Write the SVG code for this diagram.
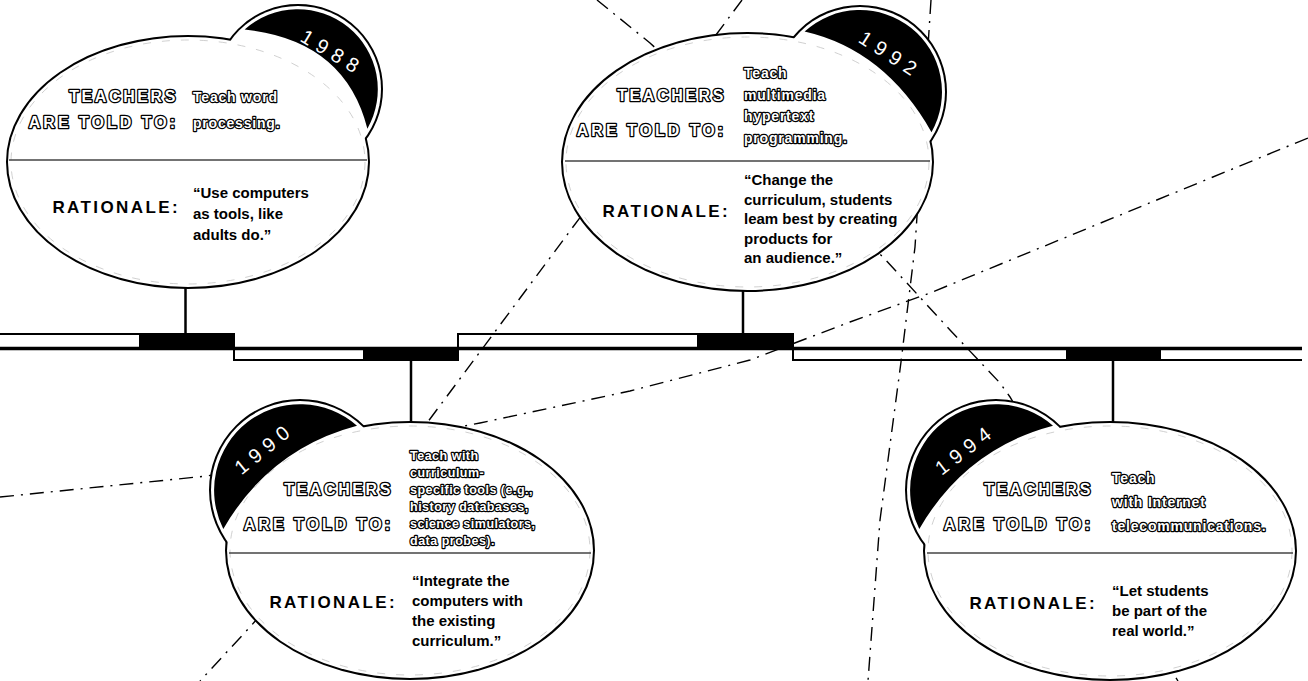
<svg xmlns="http://www.w3.org/2000/svg" width="1308" height="681" viewBox="0 0 1308 681">
<style>
.ol{fill:#fff;stroke:#000;stroke-width:4}
.wf{fill:#fff}
.cr{fill:#000}
.faint{fill:none;stroke:#c4c4c4;stroke-width:0.8;stroke-dasharray:8 11}
.dv{stroke:#444;stroke-width:1.5}
.ray{fill:none;stroke:#000;stroke-width:1.4;stroke-dasharray:14 7 2 7}
.stem{stroke:#000;stroke-width:2.5}
.tl{fill:none;stroke:#000;stroke-width:2}
.hd{font-family:"Liberation Sans",Arial,sans-serif;font-weight:bold;font-size:16px;letter-spacing:2.6px;fill:#fff;stroke:#000;stroke-width:2.6;stroke-linejoin:round;paint-order:stroke;text-anchor:end}
.hd2{letter-spacing:3px}
.ins{font-family:"Liberation Sans",Arial,sans-serif;font-weight:bold;font-size:14px;letter-spacing:0.8px;fill:#fff;stroke:#000;stroke-width:2.4;stroke-linejoin:round;paint-order:stroke}
.sm{font-size:12.5px;letter-spacing:0.5px}
.rat{font-family:"Liberation Sans",Arial,sans-serif;font-weight:bold;font-size:17px;letter-spacing:2.4px;fill:#000;text-anchor:end}
.q{font-family:"Liberation Sans",Arial,sans-serif;font-weight:bold;font-size:15px;fill:#000}
.yr{font-family:"Liberation Sans",Arial,sans-serif;font-weight:normal;font-size:20px;letter-spacing:6.5px;fill:#fff;text-anchor:middle}
</style>
<rect width="1308" height="681" fill="#fff"/>

<g id="rays">
<path class="ray" d="M597,0 L650,43 L883,257 L950,330 L1000,383 L1010,397 L1173,673 L1178,681"/>
<path class="ray" d="M742,0 L427,423 L250,627 L200,681"/>
<path class="ray" d="M0,497 L207,476 L480,423 L630,391 L750,360 L850,322 L930,293 L1308,138"/>
<path class="ray" d="M931,0 L915,247 L901,362 L880,520 L868,681"/>
</g>

<g id="timeline">
<rect x="139" y="334" width="95" height="14" fill="#000"/>
<rect x="363" y="348" width="95" height="12" fill="#000"/>
<rect x="697" y="334" width="96" height="14" fill="#000"/>
<rect x="1066" y="348" width="95" height="12" fill="#000"/>
<path class="tl" d="M0,334 H234 V360 H458 V334 H793 V360 H1302"/>
<line x1="0" y1="348.5" x2="1302" y2="348.5" stroke="#000" stroke-width="3.5"/>
<line class="stem" x1="185.5" y1="286" x2="185.5" y2="334"/>
<line class="stem" x1="743" y1="289" x2="743" y2="334"/>
<line class="stem" x1="411" y1="360" x2="411" y2="424"/>
<line class="stem" x1="1113" y1="360" x2="1113" y2="424"/>
</g>

<g id="n1988">
<circle class="ol" cx="298" cy="89" r="83"/>
<ellipse class="ol" cx="188" cy="162" rx="180" ry="125"/>
<circle class="wf" cx="298" cy="89" r="83"/>
<ellipse class="wf" cx="188" cy="162" rx="180" ry="125"/>
<ellipse class="faint" cx="188" cy="162" rx="177" ry="122"/>
<path class="cr" d="M244.6,29.5 Q345,40 367.4,128.7 A80,80 0 0 0 244.6,29.5 Z"/>
<text class="yr" transform="translate(330,51) rotate(31)" x="3.25" y="7">1988</text>
<line class="dv" x1="9" y1="160" x2="367" y2="160"/>
<text class="hd" x="178" y="102">TEACHERS</text>
<text class="hd hd2" x="178" y="128">ARE TOLD TO:</text>
<text class="ins" x="193" y="102">Teach word</text>
<text class="ins" x="193" y="128">processing.</text>
<text class="rat" x="180" y="213">RATIONALE:</text>
<text class="q" x="193" y="198">“Use computers</text>
<text class="q" x="193" y="219">as tools, like</text>
<text class="q" x="193" y="240">adults do.”</text>
</g>

<g id="n1992">
<circle class="ol" cx="860" cy="92" r="85"/>
<ellipse class="ol" cx="747.5" cy="162" rx="184.5" ry="128"/>
<circle class="wf" cx="860" cy="92" r="85"/>
<ellipse class="wf" cx="747.5" cy="162" rx="184.5" ry="128"/>
<ellipse class="faint" cx="747.5" cy="162" rx="181.5" ry="125"/>
<path class="cr" d="M804.6,31.6 Q885,50 931.5,132.2 A82,82 0 0 0 804.6,31.6 Z"/>
<text class="yr" transform="translate(888,53) rotate(33)" x="3.25" y="7">1992</text>
<line class="dv" x1="565" y1="161" x2="930" y2="161"/>
<text class="hd" x="726" y="101">TEACHERS</text>
<text class="hd hd2" x="726" y="136">ARE TOLD TO:</text>
<text class="ins" x="744" y="78">Teach</text>
<text class="ins" x="744" y="100">multimedia</text>
<text class="ins" x="744" y="121">hypertext</text>
<text class="ins" x="744" y="143">programming.</text>
<text class="rat" x="730" y="217">RATIONALE:</text>
<text class="q" x="744" y="185">“Change the</text>
<text class="q" x="744" y="204.5">curriculum, students</text>
<text class="q" x="744" y="224">leam best by creating</text>
<text class="q" x="744" y="243.5">products for</text>
<text class="q" x="744" y="263">an audience.”</text>
</g>

<g id="n1990">
<circle class="ol" cx="300" cy="490" r="89"/>
<ellipse class="ol" cx="410" cy="550.5" rx="183" ry="127.5"/>
<circle class="wf" cx="300" cy="490" r="89"/>
<ellipse class="wf" cx="410" cy="550.5" rx="183" ry="127.5"/>
<ellipse class="faint" cx="410" cy="550.5" rx="180" ry="124.5"/>
<path class="cr" d="M357,425.7 Q269.8,448.7 223.3,528.9 A86,86 0 0 1 357,425.7 Z"/>
<text class="yr" transform="translate(262,450) rotate(-39)" x="3.25" y="7">1990</text>
<line class="dv" x1="229" y1="553" x2="591" y2="553"/>
<text class="hd" x="393" y="495">TEACHERS</text>
<text class="hd hd2" x="393" y="530">ARE TOLD TO:</text>
<text class="ins sm" x="410" y="460">Teach with</text>
<text class="ins sm" x="410" y="477">curriculum-</text>
<text class="ins sm" x="410" y="494">specific tools (e.g.,</text>
<text class="ins sm" x="410" y="511">history databases,</text>
<text class="ins sm" x="410" y="528">science simulators,</text>
<text class="ins sm" x="410" y="545">data probes).</text>
<text class="rat" x="397" y="608">RATIONALE:</text>
<text class="q" x="412" y="586">“Integrate the</text>
<text class="q" x="412" y="606">computers with</text>
<text class="q" x="412" y="626">the existing</text>
<text class="q" x="412" y="646">curriculum.”</text>
</g>

<g id="n1994">
<circle class="ol" cx="996" cy="490" r="89"/>
<ellipse class="ol" cx="1110" cy="551" rx="185" ry="128"/>
<circle class="wf" cx="996" cy="490" r="89"/>
<ellipse class="wf" cx="1110" cy="551" rx="185" ry="128"/>
<ellipse class="faint" cx="1110" cy="551" rx="182" ry="125"/>
<path class="cr" d="M1053,425.7 Q965.8,448.7 919.3,528.9 A86,86 0 0 1 1053,425.7 Z"/>
<text class="yr" transform="translate(963,451) rotate(-37.5)" x="3.25" y="7">1994</text>
<line class="dv" x1="927" y1="553" x2="1293" y2="553"/>
<text class="hd" x="1093" y="495">TEACHERS</text>
<text class="hd hd2" x="1093" y="530">ARE TOLD TO:</text>
<text class="ins" x="1112" y="483">Teach</text>
<text class="ins" x="1112" y="507">with Internet</text>
<text class="ins" x="1112" y="531">telecommunications.</text>
<text class="rat" x="1097" y="609">RATIONALE:</text>
<text class="q" x="1112" y="596">“Let students</text>
<text class="q" x="1112" y="616">be part of the</text>
<text class="q" x="1112" y="636">real world.”</text>
</g>
</svg>
